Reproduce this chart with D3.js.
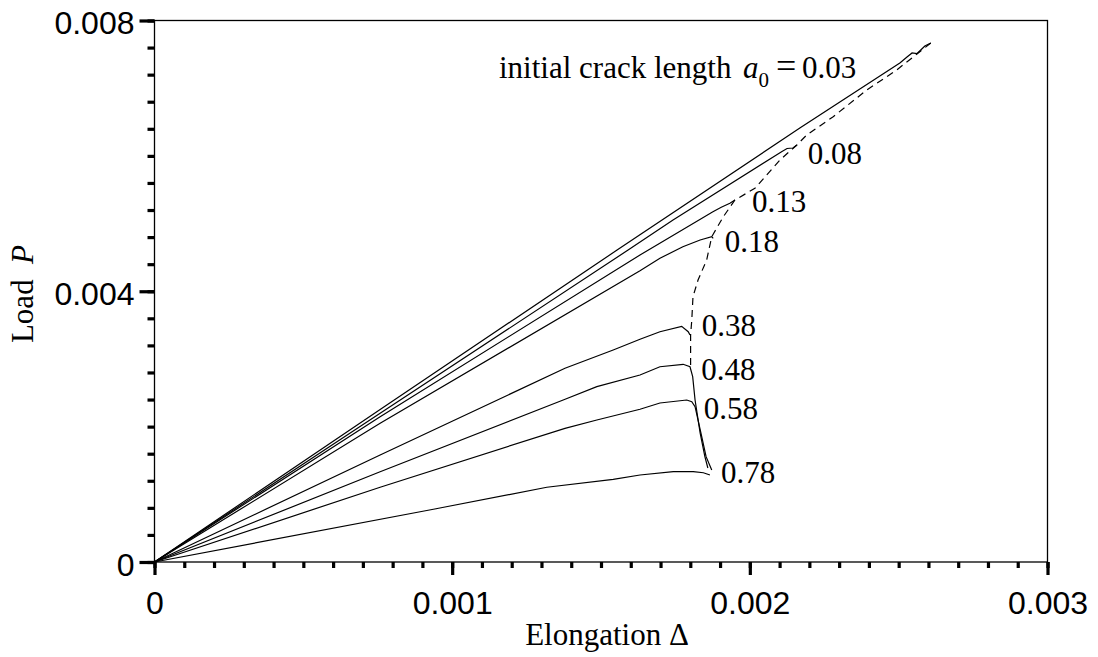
<!DOCTYPE html>
<html>
<head>
<meta charset="utf-8">
<script src="https://cdn.jsdelivr.net/npm/d3@7"></script>
<style>
  body { margin: 0; background: #fff; }
  .curve { fill: none; stroke: #000; stroke-width: 1.2; }
  .envelope { fill: none; stroke: #000; stroke-width: 1.2; stroke-dasharray: 7,5; }
  .tick-label { font-family: "Liberation Sans", Arial, sans-serif; font-size: 32px; fill: #000; }
  .serif { font-family: "Liberation Serif", "Times New Roman", serif; font-size: 31px; fill: #000; }
</style>
</head>
<body>
<svg id="chart" width="1098" height="657"></svg>
<script>
// load vs elongation for several initial crack lengths a0
// every curve is a list of [elongation, load] pairs

var crackLabels = ["0.03", "0.08", "0.13", "0.18", "0.38", "0.48", "0.58", "0.78"];

var curve003 = [[0, 0], [0.000758, 0.002253], [0.001554, 0.004609], [0.002168, 0.006412],
  [0.002504, 0.007372], [0.002528, 0.007461], [0.002545, 0.007520], [0.002562, 0.007512],
  [0.002588, 0.007623], [0.002608, 0.007667]];
var curve008 = [[0, 0], [0.000758, 0.002197], [0.001591, 0.004609], [0.001742, 0.005052],
  [0.002108, 0.006065], [0.002125, 0.006109], [0.002145, 0.006116], [0.002158, 0.006161]];
var curve013 = [[0, 0], [0.000758, 0.002147], [0.001631, 0.004535], [0.001876, 0.005175],
  [0.001904, 0.005240], [0.001933, 0.005299], [0.001950, 0.005348]];
var curve018 = [[0, 0], [0.000758, 0.002049], [0.001631, 0.004303], [0.001698, 0.004487],
  [0.001775, 0.004658], [0.001833, 0.004757], [0.001872, 0.004806], [0.001877, 0.004782]];
var curve038 = [[0, 0], [0.000758, 0.001581], [0.001379, 0.002862], [0.001541, 0.003132],
  [0.001631, 0.003290], [0.001698, 0.003402], [0.001771, 0.003482], [0.001793, 0.003402],
  [0.001799, 0.003354]];
var curve048 = [[0, 0], [0.000758, 0.001334], [0.001373, 0.002393], [0.001486, 0.002590],
  [0.001631, 0.002763], [0.001698, 0.002885], [0.001776, 0.002921], [0.001799, 0.002885],
  [0.001808, 0.002738], [0.001816, 0.002393], [0.001833, 0.001906], [0.001849, 0.001556],
  [0.001859, 0.001389]];
var curve058 = [[0, 0], [0.000758, 0.001104], [0.001379, 0.001975], [0.001486, 0.002098],
  [0.001631, 0.002256], [0.001698, 0.002349], [0.001788, 0.002393], [0.001805, 0.002368],
  [0.001816, 0.002294], [0.001836, 0.001901], [0.001853, 0.001556], [0.001872, 0.001359]];
var curve078 = [[0, 0], [0.000937, 0.000779], [0.001318, 0.001104], [0.001541, 0.001222],
  [0.001631, 0.001285], [0.001743, 0.001334], [0.001810, 0.001334], [0.001844, 0.001319],
  [0.001866, 0.001285]];

// dashed line through the peak loads
var peakEnvelope = [[0.002608, 0.007667], [0.002493, 0.007268], [0.002393, 0.006973],
  [0.002280, 0.006579], [0.002191, 0.006308], [0.002158, 0.006161], [0.002101, 0.005939],
  [0.002017, 0.005521], [0.001950, 0.005348], [0.001911, 0.005101], [0.001872, 0.004806],
  [0.001855, 0.004462], [0.001826, 0.004166], [0.001809, 0.003919], [0.001805, 0.003575],
  [0.001801, 0.003354], [0.001801, 0.002910]];

var xTicks = [0, 0.001, 0.002, 0.003];
var xTickLabels = ["0", "0.001", "0.002", "0.003"];
var yTicks = [0, 0.004, 0.008];
var yTickLabels = ["0", "0.004", "0.008"];

var curves = [curve003, curve008, curve013, curve018, curve038, curve048, curve058, curve078];

var svg = d3.select("#chart"),
    margin = {top: 20.5, right: 50.5, bottom: 95, left: 154.5},
    width = 1098 - margin.left - margin.right,
    height = 657 - margin.top - margin.bottom,
    g = svg.append("g").attr("transform", "translate(" + margin.left + "," + margin.top + ")");

// Set scales
var x = d3.scaleLinear().domain([0, 0.003]).range([0, width]),
    y = d3.scaleLinear().domain([0, 0.008]).range([height, 0]);

var line = d3.line()
    .x(function(d) { return x(d[0]); })
    .y(function(d) { return y(d[1]); });

// minor ticks first, then major ticks with labels
var xMinor = g.append("g")
    .attr("transform", "translate(0," + height + ")")
    .call(d3.axisBottom(x).tickValues(d3.range(0, 31).map(function(i) { return i / 10000; }))
      .tickSize(6).tickFormat(""));
var xMajor = g.append("g")
    .attr("transform", "translate(0," + height + ")")
    .call(d3.axisBottom(x).tickValues(xTicks).tickSize(13)
      .tickFormat(function(d, i) { return xTickLabels[i]; }));

var yMinor = g.append("g")
    .call(d3.axisLeft(y).tickValues(d3.range(0, 21).map(function(i) { return i * 0.0004; }))
      .tickSize(7).tickFormat(""));
var yMajor = g.append("g")
    .call(d3.axisLeft(y).tickValues(yTicks).tickSize(15)
      .tickFormat(function(d, i) { return yTickLabels[i]; }));

[xMinor, xMajor, yMinor, yMajor].forEach(function(ax) {
  ax.select(".domain").remove();
  ax.selectAll(".tick line").attr("stroke", "#000").attr("stroke-width", 3.2);
  ax.selectAll(".tick text").attr("class", "tick-label").attr("font-size", null).attr("font-family", null);
});
xMajor.selectAll(".tick text").attr("y", 52).attr("dy", null);
yMajor.selectAll(".tick text").attr("x", -20).attr("dy", 13);

// frame
g.append("rect")
    .attr("width", width)
    .attr("height", height)
    .attr("fill", "none")
    .attr("stroke", "#000")
    .attr("stroke-width", 1.3);

// Add the curves
g.selectAll(".curve")
    .data(curves)
  .enter().append("path")
    .attr("class", "curve")
    .attr("d", line);

g.append("path")
    .datum(peakEnvelope)
    .attr("class", "envelope")
    .attr("d", line);

// crack length labels, placed next to each curve's peak
var labelOffsets = [null, [11, 19], [17, 12], [13, 15], [20, 10], [18, 16], [17, 19], [11, 8]];
curves.forEach(function(c, i) {
  if (i === 0) return;
  var anchor = i === 7 ? c[c.length - 1] : c[d3.maxIndex(c, function(d) { return d[1]; })];
  g.append("text")
      .attr("class", "serif")
      .attr("x", x(anchor[0]) + labelOffsets[i][0])
      .attr("y", y(anchor[1]) + labelOffsets[i][1])
      .text(crackLabels[i]);
});

// heading label of the top curve
var head = svg.append("text").attr("class", "serif").attr("x", 499).attr("y", 78);
head.append("tspan").text("initial crack length");
head.append("tspan").attr("x", 743).style("font-style", "italic").text("a");
head.append("tspan").attr("dy", 9).attr("font-size", 21).text("0");
head.append("tspan").attr("x", 776).attr("dy", -9).attr("font-size", 36).text("=");
head.append("tspan").attr("x", 802).text(crackLabels[0]);

// axis titles
svg.append("text")
    .attr("class", "serif")
    .attr("x", 607)
    .attr("y", 645)
    .attr("text-anchor", "middle")
    .text("Elongation \u0394");

var yTitle = svg.append("text")
    .attr("class", "serif")
    .attr("transform", "translate(33,294) rotate(-90)")
    .attr("text-anchor", "middle");
yTitle.append("tspan").text("Load\u2002");
yTitle.append("tspan").style("font-style", "italic").text("P");
</script>
</body>
</html>
